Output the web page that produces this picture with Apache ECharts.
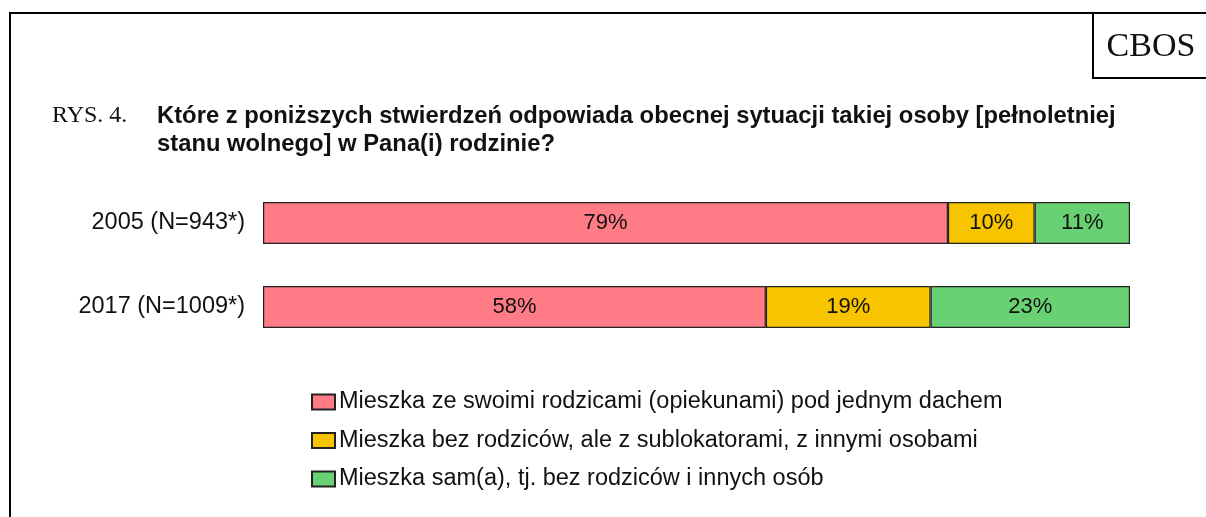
<!DOCTYPE html>
<html>
<head>
<meta charset="utf-8">
<script src="https://cdn.jsdelivr.net/npm/echarts@6/dist/echarts.min.js"></script>
<style>
  html, body { margin: 0; padding: 0; background: #fff; }
  #chart { width: 1206px; height: 517px; }
</style>
</head>
<body>
<div id="chart"></div>
<script>
var categories = ['2005 (N=943*)', '2017 (N=1009*)'];
var seriesNames = [
  'Mieszka ze swoimi rodzicami (opiekunami) pod jednym dachem',
  'Mieszka bez rodziców, ale z sublokatorami, z innymi osobami',
  'Mieszka sam(a), tj. bez rodziców i innych osób'
];
var withParents = [79, 58];
var withOthers = [10, 19];
var alone = [11, 23];
var colors = ['#FF7B86', '#F8C400', '#68D173'];

var chart = echarts.init(document.getElementById('chart'));

function barSeries(name, data, color) {
  return {
    name: name,
    type: 'bar',
    stack: 'all',
    barWidth: 42,
    data: data,
    itemStyle: { color: color, borderColor: '#222', borderWidth: 1.2 },
    label: {
      show: true,
      position: 'inside',
      formatter: '{c}%',
      color: '#111',
      fontSize: 22,
      fontFamily: 'Liberation Sans, Arial'
    },
    emphasis: { disabled: true }
  };
}

var option = {
  backgroundColor: '#fff',
  animation: false,
  grid: { left: 263, right: 76, top: 181, bottom: 168 },
  xAxis: { type: 'value', min: 0, max: 100, show: false },
  yAxis: {
    type: 'category',
    inverse: true,
    data: categories,
    axisLine: { show: false },
    axisTick: { show: false },
    axisLabel: {
      margin: 18,
      color: '#111',
      fontSize: 23.5,
      fontFamily: 'Liberation Sans, Arial'
    }
  },
  legend: {
    orient: 'vertical',
    left: 311,
    top: 390,
    padding: 0,
    itemGap: 14.5,
    itemWidth: 23,
    itemHeight: 15,
    icon: 'rect',
    selectedMode: false,
    textStyle: { color: '#111', fontSize: 23.5, lineHeight: 24, fontFamily: 'Liberation Sans, Arial', padding: [0, 0, 0, -1] },
    data: seriesNames
  },
  graphic: [
    { type: 'line', shape: { x1: 10, y1: 13, x2: 1206, y2: 13 }, style: { stroke: '#000', lineWidth: 2 } },
    { type: 'line', shape: { x1: 10, y1: 12, x2: 10, y2: 517 }, style: { stroke: '#000', lineWidth: 2 } },
    { type: 'line', shape: { x1: 1093, y1: 13, x2: 1093, y2: 78 }, style: { stroke: '#000', lineWidth: 2 } },
    { type: 'line', shape: { x1: 1092, y1: 78, x2: 1206, y2: 78 }, style: { stroke: '#000', lineWidth: 2 } },
    { type: 'text', x: 1151, y: 47, style: { text: 'CBOS', fill: '#111', align: 'center', verticalAlign: 'middle', font: '34px "Liberation Serif", "Times New Roman", serif' } },
    { type: 'text', x: 52, y: 116, style: { text: 'RYS. 4.', fill: '#111', verticalAlign: 'middle', font: '24px "Liberation Serif", "Times New Roman", serif' } },
    { type: 'text', x: 157, y: 116, style: {
      text: 'Które z poniższych stwierdzeń odpowiada obecnej sytuacji takiej osoby [pełnoletniej',
      fill: '#111', verticalAlign: 'middle',
      font: 'bold 23.8px "Liberation Sans", Arial, sans-serif'
    } },
    { type: 'text', x: 157, y: 144, style: {
      text: 'stanu wolnego] w Pana(i) rodzinie?',
      fill: '#111', verticalAlign: 'middle',
      font: 'bold 23.8px "Liberation Sans", Arial, sans-serif'
    } }
  ],
  series: [
    barSeries(seriesNames[0], withParents, colors[0]),
    barSeries(seriesNames[1], withOthers, colors[1]),
    barSeries(seriesNames[2], alone, colors[2])
  ]
};
chart.setOption(option);
</script>
</body>
</html>
